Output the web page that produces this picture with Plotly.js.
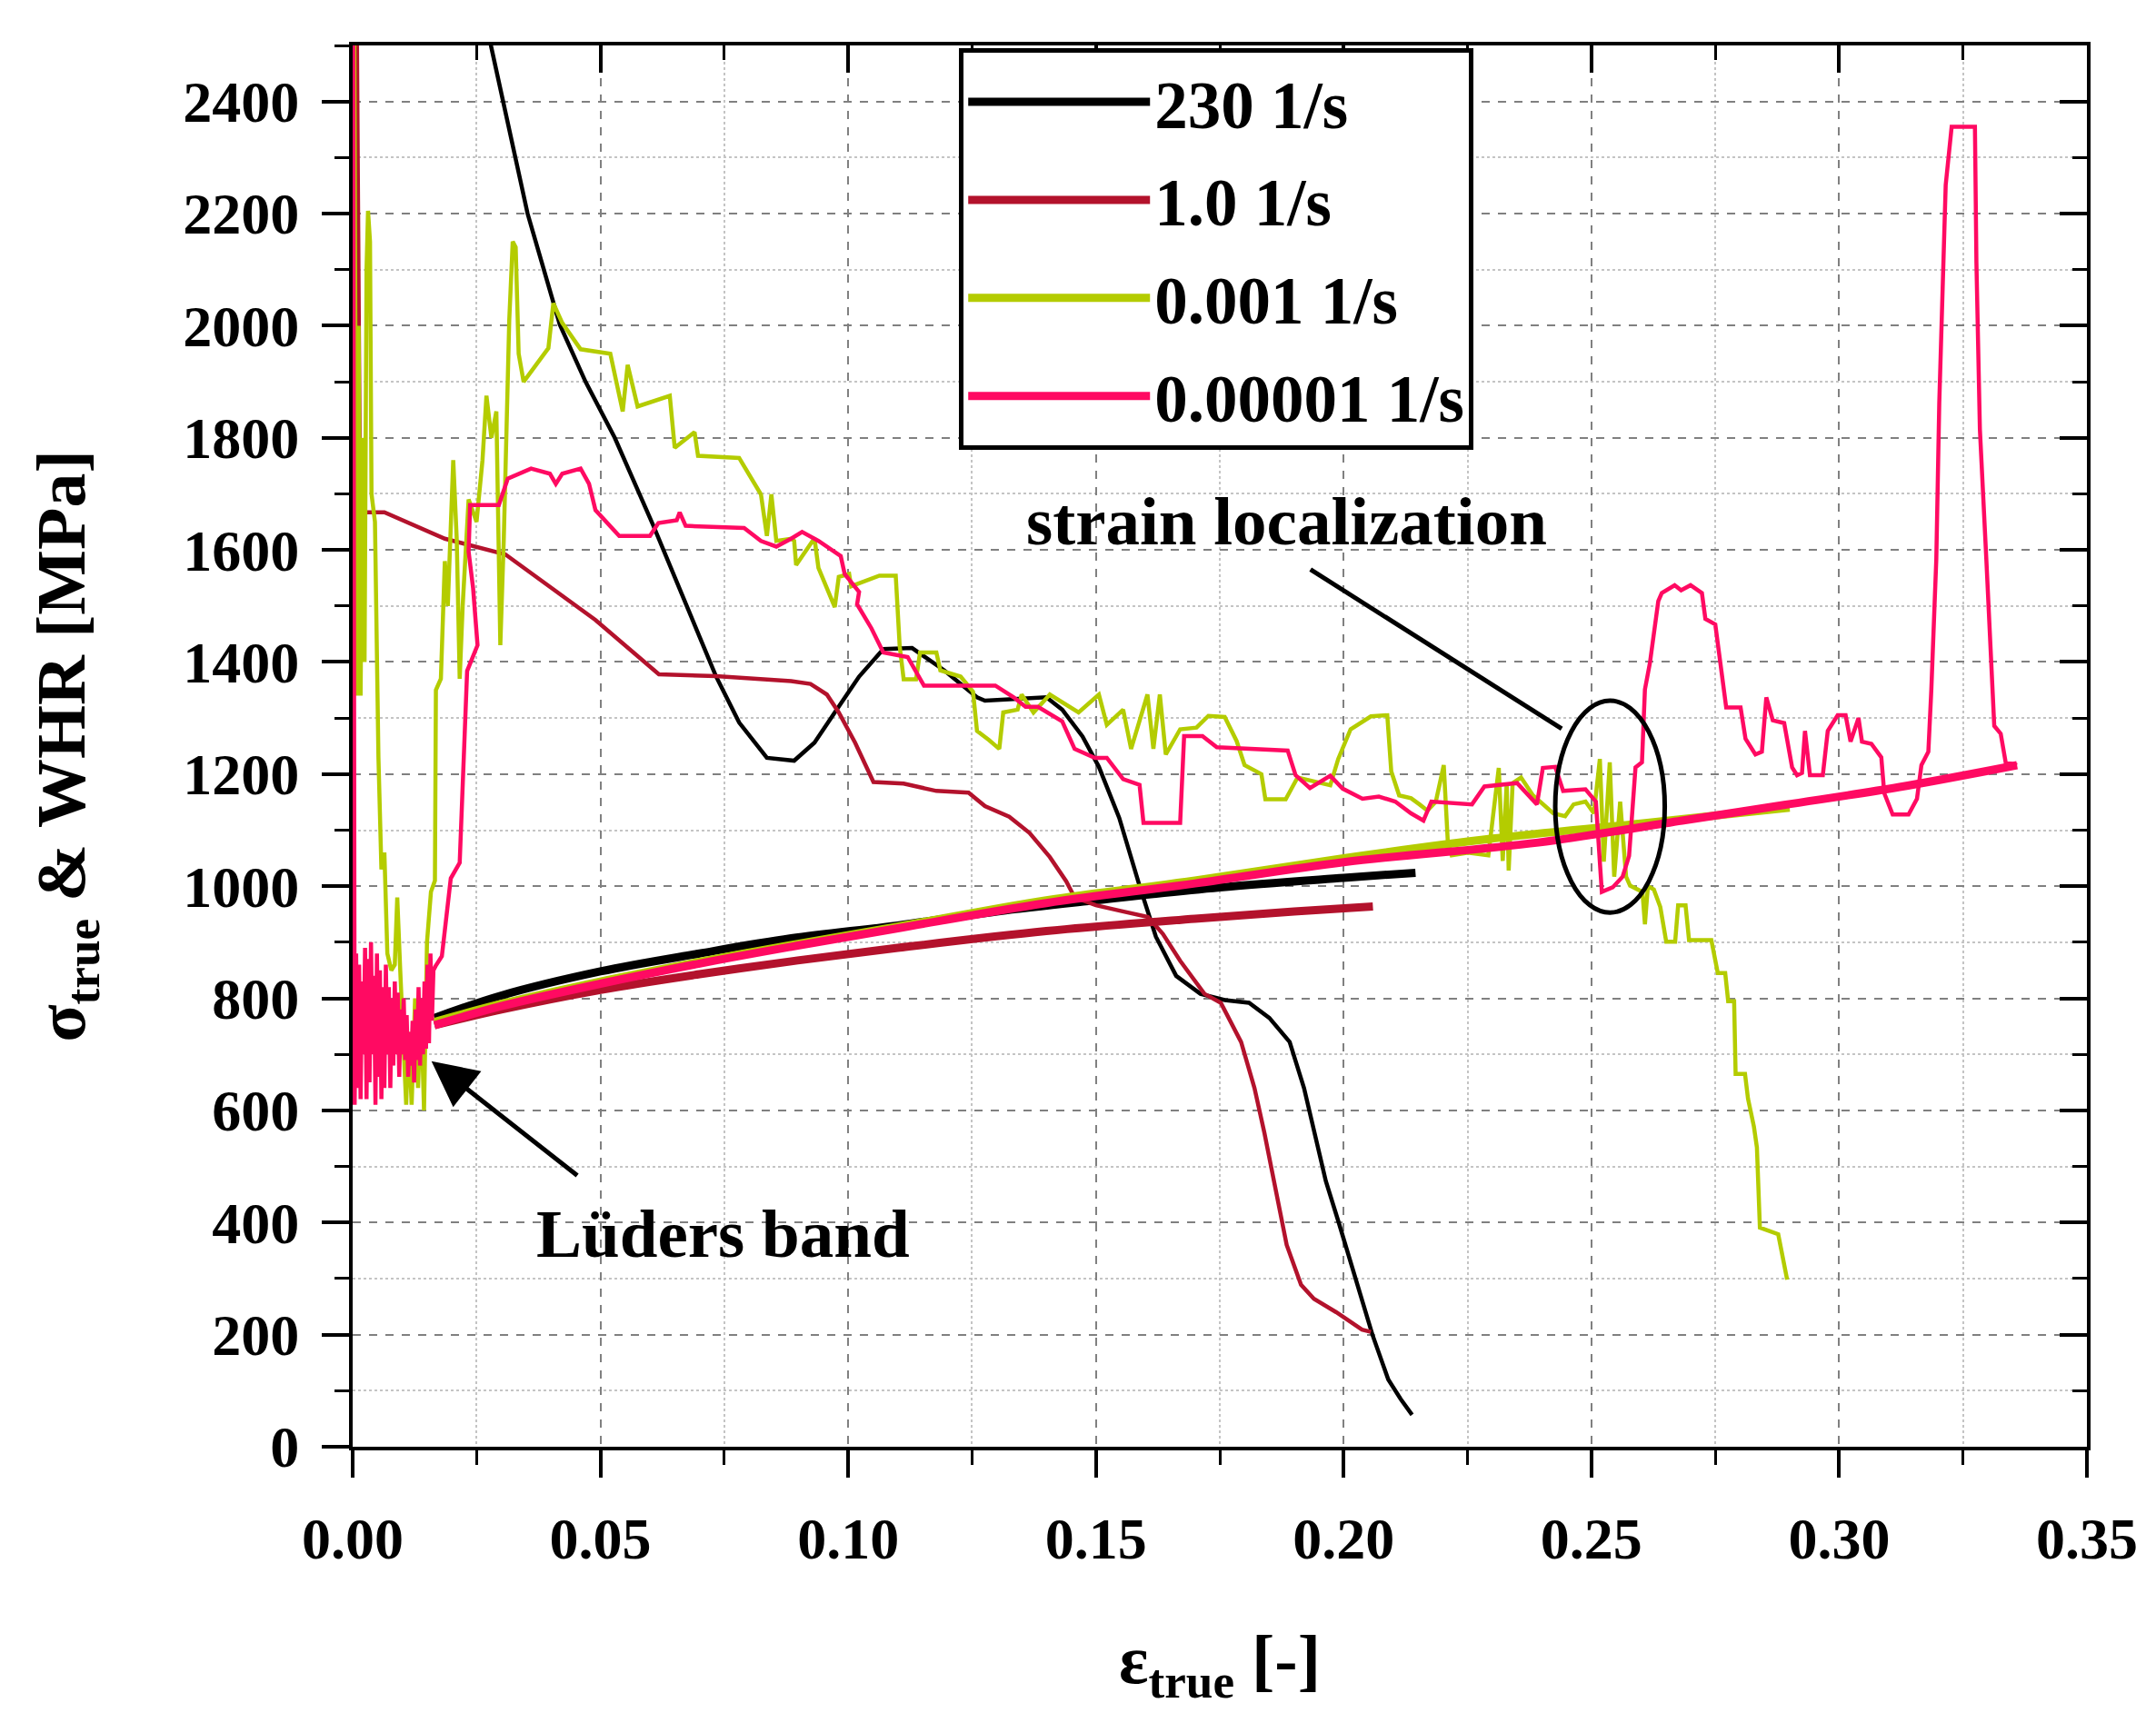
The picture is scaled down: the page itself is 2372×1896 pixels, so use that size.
<!DOCTYPE html>
<html>
<head>
<meta charset="utf-8">
<script src="https://cdn.plot.ly/plotly-3.0.1.min.js"></script>
<style>
  html, body { margin: 0; padding: 0; background: #fff; }
  #chart { width: 2372px; height: 1896px; }
</style>
</head>
<body>
<div id="chart"></div>
<script>
// series names and colours
const seriesNames = ['230 1/s', '1.0 1/s', '0.001 1/s', '0.00001 1/s']
const seriesColors = ['#000000', '#b3122c', '#b4cc00', '#ff0a62']

// work hardening rate curves (thin lines)
const whr230X = [0.0265, 0.0279, 0.0353, 0.0418, 0.047, 0.0529, 0.0606, 0.067, 0.0733, 0.078, 0.0836, 0.0891, 0.0932, 0.0973, 0.1022, 0.1071, 0.1129, 0.1194, 0.126, 0.1276, 0.14, 0.1432, 0.1473, 0.1506, 0.1547, 0.1588, 0.1621, 0.1662, 0.1711, 0.176, 0.1809, 0.185, 0.1891, 0.192, 0.1945, 0.1964, 0.199, 0.2025, 0.2058, 0.209, 0.2115, 0.2138]
const whr230Y = [2600, 2500, 2200, 2002, 1900, 1800, 1645, 1510, 1375, 1292, 1229, 1224, 1256, 1310, 1374, 1423, 1425, 1385, 1337, 1331, 1337, 1315, 1267, 1213, 1122, 1001, 910, 840, 808, 797, 792, 765, 722, 640, 550, 474, 400, 300, 200, 120, 85, 57]

const whr1X = [0.0008, 0.0015, 0.0064, 0.0186, 0.0308, 0.049, 0.0618, 0.0733, 0.0885, 0.0924, 0.0957, 0.0981, 0.1014, 0.1051, 0.1112, 0.1178, 0.1243, 0.1276, 0.1325, 0.1366, 0.1407, 0.144, 0.1457, 0.15, 0.155, 0.1605, 0.1635, 0.167, 0.1719, 0.1752, 0.1793, 0.182, 0.184, 0.186, 0.1885, 0.1914, 0.194, 0.1985, 0.2037, 0.2055]
const whr1Y = [2600, 1667, 1667, 1620, 1592, 1475, 1378, 1375, 1366, 1361, 1342, 1310, 1256, 1186, 1183, 1170, 1167, 1143, 1124, 1095, 1052, 1009, 980, 966, 956, 945, 915, 867, 808, 792, 722, 640, 560, 474, 360, 289, 264, 240, 209, 205]

const whr001X = [0.0003, 0.0008, 0.0012, 0.0016, 0.002, 0.0024, 0.0028, 0.0031, 0.0035, 0.0038, 0.0045, 0.0052, 0.0058, 0.0064, 0.007, 0.0078, 0.0085, 0.009, 0.0096, 0.0103, 0.0108, 0.0113, 0.0119, 0.0126, 0.0132, 0.0138, 0.0144, 0.015, 0.0158, 0.0166, 0.0168, 0.0178, 0.0186, 0.0192, 0.0203, 0.021, 0.0216, 0.0222, 0.0234, 0.025, 0.0262, 0.027, 0.028, 0.029, 0.0298, 0.0305, 0.031, 0.0316, 0.0323, 0.0329, 0.0335, 0.0345, 0.037, 0.0395, 0.0405, 0.0423, 0.046, 0.052, 0.0545, 0.0555, 0.0575, 0.064, 0.065, 0.069, 0.0697, 0.078, 0.0824, 0.0836, 0.0845, 0.0855, 0.0885, 0.0891, 0.0895, 0.0932, 0.094, 0.0973, 0.0981, 0.1002, 0.1006, 0.1063, 0.1096, 0.1104, 0.1112, 0.1137, 0.1145, 0.1178, 0.1186, 0.1227, 0.1252, 0.126, 0.1284, 0.1305, 0.1313, 0.1342, 0.135, 0.1374, 0.1407, 0.1465, 0.1506, 0.1522, 0.1555, 0.1571, 0.1604, 0.1616, 0.1629, 0.1641, 0.167, 0.1703, 0.1727, 0.176, 0.1784, 0.18, 0.1834, 0.1842, 0.1883, 0.1907, 0.1973, 0.1989, 0.2014, 0.2055, 0.2088, 0.2096, 0.2112, 0.2136, 0.2153, 0.2169, 0.2186, 0.2202, 0.221, 0.2218, 0.2251, 0.2292, 0.2313, 0.2321, 0.2329, 0.2333, 0.2341, 0.2358, 0.2382, 0.2423, 0.2447, 0.2464, 0.2488, 0.2505, 0.2517, 0.2525, 0.2537, 0.2546, 0.2558, 0.257, 0.2578, 0.2603, 0.2608, 0.2614, 0.2626, 0.2639, 0.2651, 0.2669, 0.2675, 0.269, 0.2697, 0.2742, 0.2755, 0.277, 0.2776, 0.2788, 0.2791, 0.281, 0.2816, 0.2828, 0.2834, 0.284, 0.2877, 0.2895]
const whr001Y = [2600, 1340, 2000, 1340, 1800, 1400, 2100, 2205, 2150, 1700, 1650, 1230, 1030, 1060, 880, 850, 860, 980, 850, 720, 610, 740, 610, 800, 640, 790, 600, 900, 990, 1010, 1350, 1370, 1580, 1500, 1760, 1620, 1370, 1500, 1690, 1650, 1760, 1875, 1800, 1847, 1430, 1620, 1830, 2010, 2150, 2140, 1950, 1900, 1930, 1960, 2040, 2005, 1958, 1950, 1847, 1930, 1856, 1875, 1782, 1810, 1768, 1764, 1699, 1625, 1699, 1616, 1620, 1616, 1573, 1621, 1568, 1498, 1552, 1557, 1535, 1554, 1554, 1428, 1369, 1369, 1417, 1417, 1385, 1374, 1347, 1277, 1261, 1245, 1310, 1315, 1342, 1310, 1342, 1310, 1342, 1288, 1315, 1245, 1342, 1245, 1342, 1235, 1280, 1283, 1304, 1302, 1259, 1216, 1200, 1155, 1155, 1194, 1180, 1227, 1280, 1303, 1305, 1205, 1162, 1157, 1146, 1135, 1151, 1216, 1082, 1055, 1060, 1055, 1211, 1045, 1184, 1028, 1184, 1194, 1162, 1130, 1125, 1146, 1151, 1130, 1227, 1044, 1221, 1017, 1151, 1017, 1001, 990, 932, 1000, 994, 963, 901, 901, 966, 966, 904, 904, 845, 845, 795, 795, 665, 665, 621, 571, 534, 391, 379, 298]

const whr00001X = [0.0001, 0.0004, 0.0007, 0.001, 0.0013, 0.0016, 0.0019, 0.0022, 0.0025, 0.0028, 0.0031, 0.0034, 0.0037, 0.004, 0.0043, 0.0046, 0.0049, 0.0052, 0.0055, 0.0058, 0.0061, 0.0064, 0.0067, 0.007, 0.0073, 0.0076, 0.0079, 0.0082, 0.0085, 0.0088, 0.0091, 0.0094, 0.0097, 0.01, 0.0103, 0.0106, 0.0109, 0.0112, 0.0115, 0.0118, 0.0121, 0.0124, 0.0127, 0.013, 0.0133, 0.0136, 0.0139, 0.0142, 0.0145, 0.0148, 0.0151, 0.0154, 0.0157, 0.016, 0.0163, 0.0167, 0.018, 0.0198, 0.0216, 0.0222, 0.0231, 0.0252, 0.0243, 0.0234, 0.0237, 0.0295, 0.0313, 0.036, 0.0398, 0.041, 0.0423, 0.046, 0.0477, 0.049, 0.052, 0.0538, 0.06, 0.0617, 0.0654, 0.066, 0.0672, 0.079, 0.0824, 0.0855, 0.0885, 0.0907, 0.094, 0.0985, 0.0993, 0.1022, 0.1018, 0.1047, 0.1071, 0.112, 0.1153, 0.1297, 0.1334, 0.1358, 0.1383, 0.1432, 0.1457, 0.1498, 0.1522, 0.1555, 0.1588, 0.1596, 0.167, 0.1678, 0.1715, 0.1744, 0.1887, 0.1903, 0.1932, 0.1973, 0.1998, 0.2038, 0.2071, 0.2104, 0.2136, 0.2161, 0.2177, 0.2259, 0.2284, 0.235, 0.239, 0.2402, 0.2427, 0.2443, 0.2488, 0.2509, 0.2521, 0.2543, 0.2563, 0.2576, 0.2589, 0.2602, 0.2608, 0.2618, 0.2635, 0.2642, 0.2668, 0.2681, 0.27, 0.2723, 0.273, 0.275, 0.2772, 0.2801, 0.2811, 0.2831, 0.2844, 0.2853, 0.2866, 0.2889, 0.2905, 0.2915, 0.2925, 0.2931, 0.2941, 0.2967, 0.2977, 0.2997, 0.3013, 0.3023, 0.3039, 0.3046, 0.3065, 0.3085, 0.3091, 0.3108, 0.314, 0.3157, 0.3166, 0.318, 0.3186, 0.3196, 0.3202, 0.3215, 0.3227, 0.3274, 0.3277, 0.3284, 0.3297, 0.3313, 0.3326, 0.3336, 0.3359]
const whr00001Y = [2600, 610, 880, 640, 860, 620, 830, 700, 890, 620, 870, 650, 900, 700, 840, 610, 880, 660, 850, 620, 820, 640, 860, 700, 820, 640, 800, 680, 830, 700, 810, 660, 780, 700, 800, 690, 770, 660, 740, 680, 760, 650, 780, 690, 820, 680, 800, 700, 830, 710, 860, 720, 880, 760, 850, 857, 875, 1014, 1042, 1180, 1384, 1430, 1532, 1597, 1680, 1680, 1727, 1745, 1736, 1718, 1736, 1745, 1718, 1671, 1643, 1625, 1625, 1648, 1653, 1667, 1643, 1639, 1616, 1606, 1620, 1632, 1616, 1589, 1557, 1525, 1503, 1460, 1417, 1409, 1358, 1358, 1337, 1320, 1320, 1294, 1245, 1229, 1229, 1191, 1181, 1113, 1113, 1268, 1268, 1248, 1242, 1198, 1175, 1197, 1174, 1156, 1160, 1151, 1130, 1117, 1151, 1146, 1178, 1184, 1146, 1211, 1213, 1170, 1173, 1151, 990, 998, 1017, 1054, 1212, 1221, 1351, 1398, 1509, 1523, 1537, 1528, 1537, 1523, 1477, 1467, 1319, 1319, 1263, 1235, 1240, 1337, 1296, 1291, 1212, 1198, 1202, 1277, 1198, 1198, 1277, 1305, 1305, 1258, 1300, 1258, 1254, 1230, 1166, 1128, 1128, 1156, 1216, 1240, 1351, 1583, 1862, 2251, 2355, 2355, 2112, 1815, 1583, 1286, 1272, 1221, 1216]

// true stress curves (thick lines)
const stress230X = [0.0165, 0.03, 0.05, 0.07, 0.0885, 0.11, 0.13, 0.15, 0.175, 0.2, 0.2145]
const stress230Y = [765, 805, 848, 880, 907, 930, 955, 975, 998, 1015, 1024]
const stress1X = [0.0165, 0.03, 0.05, 0.07, 0.0885, 0.11, 0.14, 0.17, 0.19, 0.2059]
const stress1Y = [752, 780, 815, 843, 866, 890, 920, 942, 955, 964]
const stress001X = [0.0165, 0.03, 0.05, 0.07, 0.0885, 0.11, 0.14, 0.17, 0.2, 0.23, 0.26, 0.29]
const stress001Y = [758, 790, 830, 865, 895, 928, 975, 1010, 1050, 1085, 1112, 1140]
const stress00001X = [0.0165, 0.03, 0.05, 0.07, 0.0885, 0.11, 0.14, 0.17, 0.2, 0.2393, 0.2683, 0.2889, 0.3122, 0.3359]
const stress00001Y = [752, 786, 826, 862, 892, 925, 970, 1005, 1043, 1078, 1117, 1145, 1177, 1216]

const whrX = [whr230X, whr1X, whr001X, whr00001X]
const whrY = [whr230Y, whr1Y, whr001Y, whr00001Y]
const stressX = [stress230X, stress1X, stress001X, stress00001X]
const stressY = [stress230Y, stress1Y, stress001Y, stress00001Y]

// annotation anchors (data units)
const ellipse = { x0: 0.2427, x1: 0.2648, y0: 953, y1: 1331 }
const pointer = { x0: 0.1933, y0: 1565, x1: 0.2440, y1: 1281 }
const luders = { x: 0.0159, y: 688, ax: 0.0456, ay: 482 }

const FONT = 'Liberation Serif, Times New Roman, serif'

const data = []
for (let i = 0; i < 4; i++) {
    data.push({
        x: whrX[i], y: whrY[i], type: 'scatter', mode: 'lines',
        name: seriesNames[i], legendgroup: 'g' + i, showlegend: false,
        line: { color: seriesColors[i], width: 4.5 }
    })
    // the thick stress line carries the legend entry
    data.push({
        x: stressX[i], y: stressY[i], type: 'scatter', mode: 'lines',
        name: seriesNames[i], legendgroup: 'g' + i,
        line: { color: seriesColors[i], width: 9, shape: 'spline' }
    })
}
// empty trace so the mirrored top/right axes get drawn
data.push({ x: [], y: [], xaxis: 'x2', yaxis: 'y2', showlegend: false, hoverinfo: 'skip' })

const tickFont = { family: FONT, size: 64, weight: 700, color: '#000' }
const baseAxis = {
    showline: true, linecolor: '#000', linewidth: 4,
    zeroline: false, tickcolor: '#000', tickwidth: 4, ticklen: 30,
    ticks: 'outside', tickfont: tickFont,
    showgrid: true, gridcolor: '#808080', gridwidth: 2, griddash: 'dash'
}

const layout = {
    width: 2372, height: 1896,
    margin: { l: 388, r: 76, t: 50, b: 304 },
    paper_bgcolor: '#fff', plot_bgcolor: '#fff',
    font: { family: FONT, color: '#000' },
    xaxis: Object.assign({}, baseAxis, {
        range: [0, 0.35], dtick: 0.05, tick0: 0, tickformat: '.2f',
        ticklabelstandoff: 12,
        minor: { dtick: 0.025, ticks: 'outside', ticklen: 16, tickwidth: 3, tickcolor: '#000',
                 showgrid: true, griddash: 'dot', gridcolor: '#c4c4c4', gridwidth: 2 },
        title: { text: 'ε<sub>true</sub> [-]', font: { family: FONT, size: 76, weight: 700 }, standoff: 72 }
    }),
    yaxis: Object.assign({}, baseAxis, {
        range: [0, 2500], dtick: 200, tick0: 0,
        ticklabelstandoff: 12,
        minor: { dtick: 100, ticks: 'outside', ticklen: 16, tickwidth: 3, tickcolor: '#000',
                 showgrid: true, griddash: 'dot', gridcolor: '#c4c4c4', gridwidth: 2 },
        title: { text: 'σ<sub>true</sub> &amp; WHR [MPa]', font: { family: FONT, size: 76, weight: 700 }, standoff: 84 }
    }),
    xaxis2: {
        overlaying: 'x', side: 'top', range: [0, 0.35], dtick: 0.05,
        showline: true, linecolor: '#000', linewidth: 4, zeroline: false, showgrid: false,
        ticks: 'inside', ticklen: 30, tickwidth: 4, tickcolor: '#000', showticklabels: false,
        minor: { dtick: 0.025, ticks: 'inside', ticklen: 16, tickwidth: 3, tickcolor: '#000' }
    },
    yaxis2: {
        overlaying: 'y', side: 'right', range: [0, 2500], dtick: 200,
        showline: true, linecolor: '#000', linewidth: 4, zeroline: false, showgrid: false,
        ticks: 'inside', ticklen: 30, tickwidth: 4, tickcolor: '#000', showticklabels: false,
        minor: { dtick: 100, ticks: 'inside', ticklen: 16, tickwidth: 3, tickcolor: '#000' }
    },
    showlegend: true,
    legend: {
        x: 0.3497, y: 0.998, xanchor: 'left', yanchor: 'top',
        bgcolor: '#fff', bordercolor: '#000', borderwidth: 5,
        font: { family: FONT, size: 73, weight: 700, color: '#000' },
        itemwidth: 200, tracegroupgap: 10
    },
    shapes: [
        { type: 'circle', xref: 'x', yref: 'y', x0: ellipse.x0, x1: ellipse.x1, y0: ellipse.y0, y1: ellipse.y1,
          line: { color: '#000', width: 5 } },
        { type: 'line', xref: 'x', yref: 'y', x0: pointer.x0, y0: pointer.y0, x1: pointer.x1, y1: pointer.y1,
          line: { color: '#000', width: 5 } }
    ],
    annotations: [
        { x: 0.1884, y: 1651, xref: 'x', yref: 'y', text: 'strain localization', showarrow: false,
          font: { family: FONT, size: 75, weight: 700, color: '#000' } },
        { x: 0.0748, y: 381, xref: 'x', yref: 'y', text: 'Lüders band', showarrow: false,
          font: { family: FONT, size: 75, weight: 700, color: '#000' } },
        { x: luders.x, y: luders.y, xref: 'x', yref: 'y', axref: 'x', ayref: 'y',
          ax: luders.ax, ay: luders.ay, text: '', showarrow: true,
          arrowhead: 2, arrowsize: 2, arrowwidth: 5, arrowcolor: '#000' }
    ]
}

Plotly.newPlot('chart', data, layout, { displayModeBar: false, staticPlot: true })
</script>
</body>
</html>
